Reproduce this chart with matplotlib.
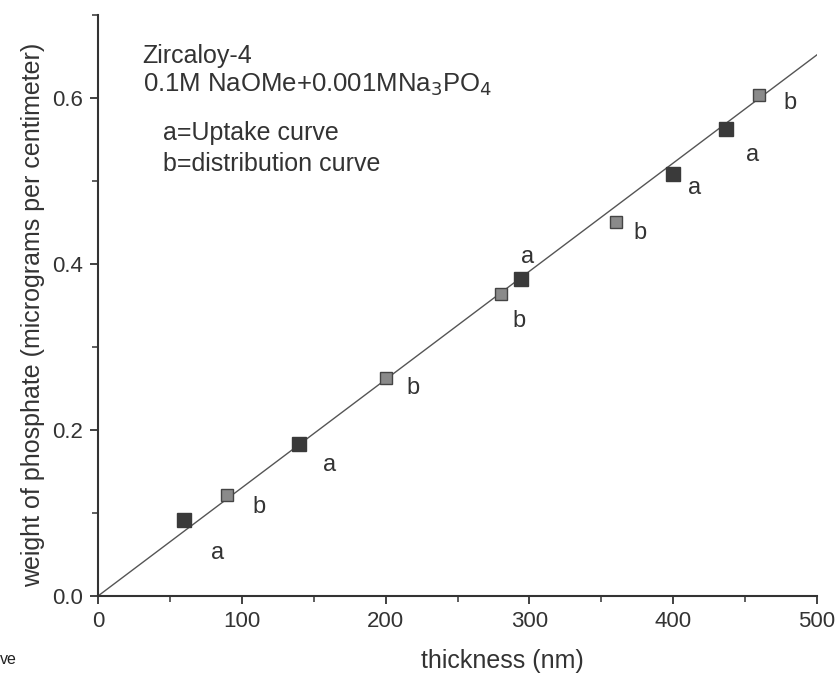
import matplotlib
matplotlib.use("Agg")
import matplotlib.pyplot as plt
from matplotlib.ticker import MultipleLocator

plt.rcParams['font.family'] = ['Liberation Sans', 'DejaVu Sans']

# Data
a_x = [60, 140, 294, 400, 437]
a_y = [0.091, 0.183, 0.382, 0.508, 0.563]
b_x = [90, 200, 280, 360, 460]
b_y = [0.122, 0.263, 0.364, 0.450, 0.603]
fit_x = [0, 500]
fit_y = [0.0, 0.652]

# point labels (x, y, text)
lab_x = [83, 112, 161, 219, 293, 299, 377, 415, 455, 481]
lab_y = [0.052, 0.107, 0.158, 0.251, 0.331, 0.408, 0.437, 0.491, 0.531, 0.594]
lab_t = ['a', 'b', 'a', 'b', 'b', 'a', 'b', 'a', 'a', 'b']

ink = '#333333'

fig = plt.figure(figsize=(8.36, 6.79), dpi=100)
ax = fig.add_axes([0.1172, 0.1222, 0.8601, 0.8558])

ax.plot(fit_x, fit_y, color='#555555', linewidth=1.0, zorder=2)
ax.plot(a_x, a_y, linestyle='none', marker='s', markersize=9.5,
        color='#3a3a3a', zorder=3)
ax.plot(b_x, b_y, linestyle='none', marker='s', markersize=8,
        markerfacecolor='#8a8a8a', markeredgecolor='#444444', zorder=3)

for x, y, t in zip(lab_x, lab_y, lab_t):
    ax.text(x, y, t, fontsize=17, color=ink, ha='center', va='center')

ax.text(31, 0.651, 'Zircaloy-4', fontsize=18, color=ink, va='center')
ax.text(31, 0.616, '0.1M NaOMe+0.001MNa$_3$PO$_4$', fontsize=18.5, color=ink, va='center')
ax.text(45, 0.558, 'a=Uptake curve', fontsize=18, color=ink, va='center')
ax.text(45, 0.520, 'b=distribution curve', fontsize=18, color=ink, va='center')

ax.set_xlim(0, 500)
ax.set_ylim(0, 0.70)
ax.xaxis.set_major_locator(MultipleLocator(100))
ax.xaxis.set_minor_locator(MultipleLocator(50))
ax.yaxis.set_major_locator(MultipleLocator(0.2))
ax.yaxis.set_minor_locator(MultipleLocator(0.1))
ax.yaxis.set_major_formatter(plt.FuncFormatter(lambda v, p: f'{v:.1f}'))

ax.spines['top'].set_visible(False)
ax.spines['right'].set_visible(False)
for s in ['left', 'bottom']:
    ax.spines[s].set_linewidth(1.5)
    ax.spines[s].set_color(ink)

ax.tick_params(which='major', direction='out', length=6, width=1.3,
               colors=ink, labelsize=16, pad=5)
ax.tick_params(which='minor', direction='out', length=4, width=1.1, colors=ink)

ax.set_xlabel('thickness (nm)', fontsize=18, color=ink, labelpad=12, x=0.562)
ax.set_ylabel('weight of phosphate (micrograms per centimeter)', fontsize=18,
              color=ink, labelpad=5, y=0.484)

fig.text(0.0, 0.029, 've', fontsize=11.5, color='#222222', va='center')

fig.savefig('out.png', dpi=100)
